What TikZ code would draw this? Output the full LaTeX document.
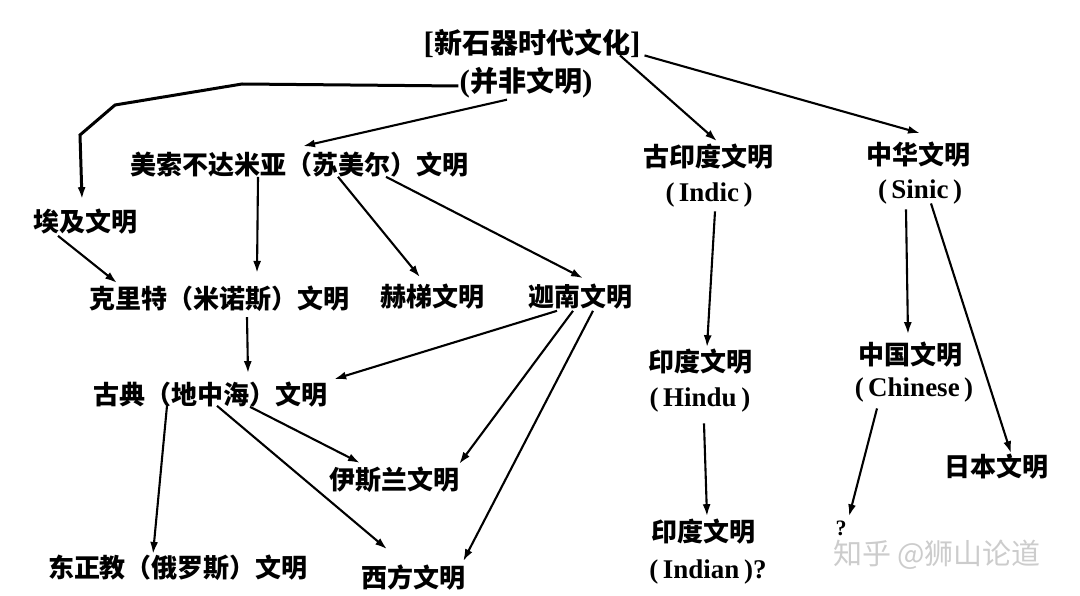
\documentclass[tikz,border=0pt]{standalone}
\usepackage{fontspec}
\usepackage{tikz}
\usetikzlibrary{arrows.meta}
\newfontfamily\cjk{Noto Sans CJK SC}
\newfontfamily\latin{Liberation Serif}
\newcommand{\eng}[1]{{\latin\bfseries (\,#1\,)}}
\newcommand{\lb}[1]{{\latin\bfseries\fontsize{31}{32}\selectfont #1}}

\begin{document}
\begin{tikzpicture}[x=1pt, y=-1pt,
    civ/.style={font=\cjk\bfseries\fontsize{26}{30}\selectfont, inner sep=1pt},
    title/.style={font=\cjk\bfseries\fontsize{28}{32}\selectfont, inner sep=1pt},
    latn/.style={font=\latin\bfseries\fontsize{27}{30}\selectfont, inner sep=1pt},
    arr/.style={-{Latex[length=12pt,width=8pt]}, line width=2.1pt}]
    \useasboundingbox (0,0) rectangle (1080,596);

    % top
    \node[title] (neo) at (532,43) {\lb{[}新石器时代文化\lb{]}};
    \node[title] (notciv) at (526,83) {\lb{(}并非文明\lb{)}};

    % western branch
    \node[civ] (meso) at (299,165) {美索不达米亚（苏美尔）文明};
    \node[civ] (egypt) at (86,222) {埃及文明};
    \node[civ] (crete) at (219,299) {克里特（米诺斯）文明};
    \node[civ] (hittite) at (432,297) {赫梯文明};
    \node[civ] (canaan) at (580,297) {迦南文明};
    \node[civ] (classic) at (210,395) {古典（地中海）文明};
    \node[civ] (islam) at (394,480) {伊斯兰文明};
    \node[civ] (orthodox) at (178,568) {东正教（俄罗斯）文明};
    \node[civ] (western) at (413,578) {西方文明};

    % indian branch
    \node[civ] (indic) at (708,157) {古印度文明};
    \node[latn] (indicL) at (709,195) {\eng{Indic}};
    \node[civ] (hindu) at (700,362) {印度文明};
    \node[latn] (hinduL) at (700,400) {\eng{Hindu}};
    \node[civ] (indian) at (703,532) {印度文明};
    \node[latn] (indianL) at (708,572) {\eng{Indian}?};

    % chinese branch
    \node[civ] (sinic) at (918,155) {中华文明};
    \node[latn] (sinicL) at (920,192) {\eng{Sinic}};
    \node[civ] (chinese) at (910,355) {中国文明};
    \node[latn] (chineseL) at (914,390) {\eng{Chinese}};
    \node[civ] (japan) at (996,467) {日本文明};
    \node[latn, font=\latin\bfseries\fontsize{22}{24}\selectfont] (q) at (841,528) {?};

    \node[font=\cjk\fontsize{29}{33}\selectfont, text=gray!40] (mark) at (937,555) {知乎 @狮山论道};

    % egypt bend
    \coordinate (bendA) at (242,84);
    \coordinate (bendB) at (115,105);
    \coordinate (bendC) at (80,135);
    \draw[arr, line width=3pt] ([yshift=-3pt]notciv.west) -- (bendA) -- (bendB) -- (bendC)
        -- ([xshift=-4pt, yshift=9pt]egypt.north);

    \draw[arr] ([xshift=-19pt]notciv.south) -- ([xshift=4pt, yshift=5pt]meso.north);
    \draw[arr] ([xshift=88pt, yshift=3pt]neo.south) -- ([xshift=9pt, yshift=2pt]indic.north);
    \draw[arr] ([xshift=3pt, yshift=3pt]neo.south east) -- ([xshift=2pt, yshift=8pt]sinic.north);

    \draw[arr] ([xshift=-41pt, yshift=2pt]meso.south) -- ([xshift=38pt, yshift=12pt]crete.north);
    \draw[arr] ([xshift=39pt, yshift=2pt]meso.south) -- ([xshift=-12pt, yshift=6pt]hittite.north);
    \draw[arr] ([xshift=87pt, yshift=2pt]meso.south) -- ([xshift=3pt, yshift=5pt]canaan.north);
    \draw[arr] ([xshift=-28pt]egypt.south) -- ([xshift=-102pt, yshift=2pt]crete.north);

    \draw[arr] ([xshift=28pt, yshift=-4pt]crete.south) -- ([xshift=38pt, yshift=8pt]classic.north);
    \draw[arr] ([xshift=-23pt]canaan.south) -- ([xshift=6pt, yshift=2pt]classic.north east);
    \draw[arr] ([xshift=-7pt]canaan.south) -- ([xshift=-1pt, yshift=2pt]islam.north east);
    \draw[arr] ([xshift=13pt]canaan.south) -- ([xshift=-3pt, yshift=3pt]western.north east);

    \draw[arr] ([xshift=40pt, yshift=2pt]classic.south) -- ([xshift=-34pt, yshift=3pt]islam.north);
    \draw[arr] ([xshift=7pt, yshift=3pt]classic.south) -- ([xshift=-26pt, yshift=15pt]western.north);
    \draw[arr] ([xshift=-43pt, yshift=3pt]classic.south) -- ([xshift=-25pt]orthodox.north);

    \draw[arr] ([xshift=6pt, yshift=-3pt]indicL.south) -- ([xshift=7pt, yshift=1pt]hindu.north);
    \draw[arr] ([xshift=4pt, yshift=-10pt]hinduL.south) -- ([xshift=4pt, yshift=2pt]indian.north);

    \draw[arr] ([xshift=-14pt, yshift=-4pt]sinicL.south) -- ([xshift=-2pt, yshift=7pt]chinese.north);
    \draw[arr] ([xshift=11pt, yshift=2pt]sinicL.south) -- ([xshift=15pt]japan.north);
    \draw[arr] ([xshift=-37pt, yshift=-5pt]chineseL.south) -- ([xshift=8pt, yshift=3pt]q.north);
\end{tikzpicture}
\end{document}
